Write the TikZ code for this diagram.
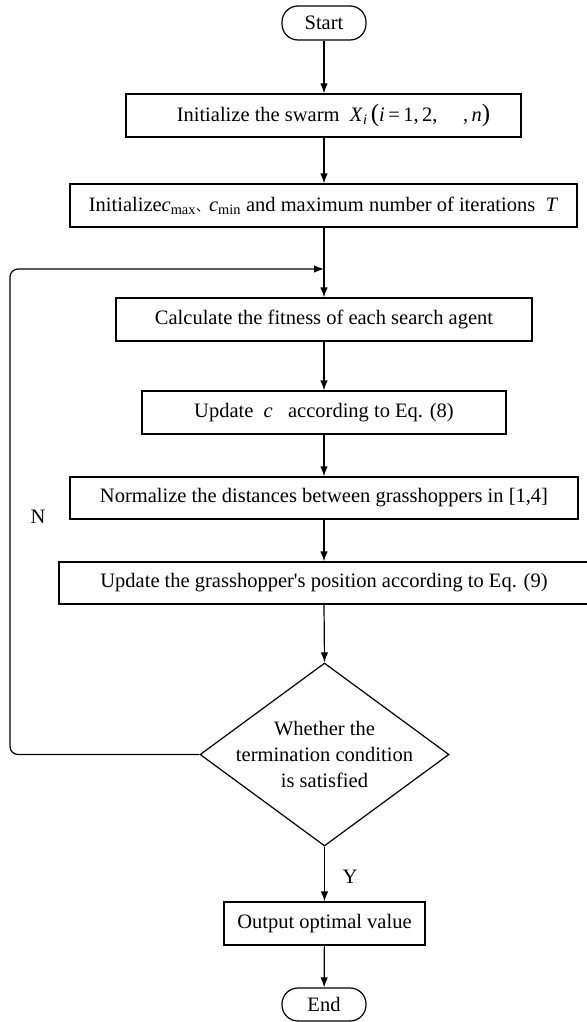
\documentclass[tikz,border=0pt]{standalone}
\usepackage{fontspec}
\setmainfont{Liberation Serif}
\newfontfamily\cjk{Noto Sans CJK SC}
\usetikzlibrary{arrows.meta,shapes.geometric}
\tikzset{
  box/.style={draw, line width=1.2pt, inner sep=0pt, minimum height=43pt, align=center},
  term/.style={draw, line width=1.2pt, inner sep=0pt, rounded corners=16pt, minimum width=84pt},
  decision/.style={draw, line width=1.2pt, diamond, aspect=1.36, inner sep=-20pt, minimum width=249pt, minimum height=183pt, align=center},
  arr/.style={line width=1.2pt, -{Latex[length=10pt,width=7.5pt]}},
  lbl/.style={inner sep=0pt}
}
\newcommand{\bigpar}[1]{{\fontsize{25}{25}\selectfont #1}}
\begin{document}
\begin{tikzpicture}[x=1pt,y=-1pt,font=\fontsize{20.5}{25.6}\selectfont]
\useasboundingbox (0,0) rectangle (586,1022);
\node[term, minimum height=34pt] (start) at (324,23) {Start};
\node[box, minimum width=395pt] (b1) at (323.5,115.5) {\hspace{20pt}Initialize the swarm\ \ \textit{X}\textsubscript{\textit{i}}\,\bigpar{(}\textit{i}\,=\,1,\,2,\quad\ ,\,\textit{n}\bigpar{)}};
\node[box, minimum width=507pt] (b2) at (323.5,205.5) {Initialize\textit{c}\textsubscript{max}{\cjk\fontsize{13}{13}\selectfont 、}\textit{c}\textsubscript{min} and maximum number of iterations\ \ \textit{T}};
\node[box, minimum width=416pt] (b3) at (324,319.5) {Calculate the fitness of each search agent};
\node[box, minimum width=364pt] (b4) at (324,412.5) {Update\ \ \textit{c}\ \ \ according to Eq. (8)};
\node[box, minimum width=508pt, minimum height=42pt] (b5) at (324,498) {Normalize the distances between grasshoppers in [1,4]};
\node[box, minimum width=530pt, minimum height=42pt] (b6) at (324,583) {Update the grasshopper\textquotesingle s position according to Eq. (9)};
\node[decision] (d) at (324.5,754.5) {Whether the\\termination condition\\is satisfied};
\node[box, minimum width=201pt] (out) at (324.5,923.5) {Output optimal value};
\node[term, minimum height=33pt] (end) at (324,1004.5) {End};
\coordinate (merge) at (324,269);
\coordinate (lc) at (10,269);
\node[lbl] (nlab) at (38,517) {N};
\node[lbl] (ylab) at (350,877) {Y};
\draw[arr] (start.south) -- (b1.north -| start.south);
\draw[arr] (b1.south -| start.south) -- (b2.north -| start.south);
\draw[arr] (b2.south -| start.south) -- (b3.north);
\draw[arr] (b3) -- (b4);
\draw[arr] (b4) -- (b5);
\draw[arr] (b5) -- (b6.north -| b5.south);
\draw[arr] (b6.south -| b5.south) -- (d.north);
\draw[arr] (d) -- (out);
\draw[arr] (out) -- (end);
\draw[arr, rounded corners=8pt] (d.west) -- (d.west -| lc) -- (lc) -- (merge);
\end{tikzpicture}
\end{document}
